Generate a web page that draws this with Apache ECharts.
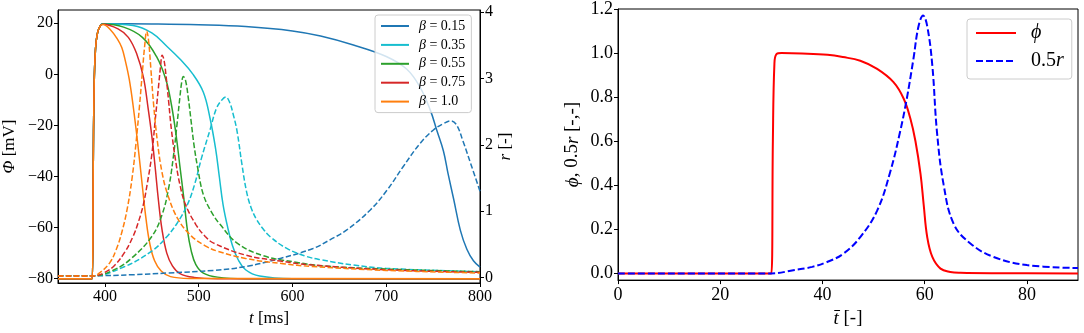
<!DOCTYPE html>
<html>
<head>
<meta charset="utf-8">
<script src="https://cdn.jsdelivr.net/npm/echarts@6/dist/echarts.min.js"></script>
<style>
  html, body { margin: 0; padding: 0; background: #fff; }
  #chart { width: 1084px; height: 333px; }
</style>
</head>
<body>
<div id="chart"></div>
<script>
// ---- data ----
// left panel: membrane potential (solid, mV) and r (dashed, right axis)
var betas = ['0.15', '0.35', '0.55', '0.75', '1.0'];
var colors = ['#1f77b4', '#17becf', '#2ca02c', '#d62728', '#ff7f0e'];

// common upstroke
var tRise = [350, 380, 386.5, 387.5, 388.5, 390, 392, 395];
var phiRise = [-80, -80, -80, -40, -5, 10, 16, 19];

var tPhi015 = [398, 450, 500, 550, 600, 630, 665, 700, 722, 736, 747, 754, 761, 766, 772, 779, 786, 793, 800];
var phi015 = [19.8, 19.7, 19.4, 18.7, 17, 15, 11.5, 7, 2, -5, -14, -22, -30, -39, -49, -61, -68.5, -73, -75.5];
var tPhi035 = [398, 430, 450, 466, 480, 494, 505, 512, 518, 522, 526, 531, 536, 542, 550, 565, 600, 800];
var phi035 = [19.8, 19.1, 16.2, 11, 6, 0, -7, -17, -29, -40, -51, -60, -67, -72.5, -76.5, -79, -80, -80];
var tPhi055 = [398, 420, 440, 455, 465, 471, 476, 480, 484, 488, 492, 497, 505, 520, 550, 800];
var phi055 = [19.7, 18.5, 14.5, 7, -2, -12, -24, -36, -48, -61, -69, -74.5, -77.8, -79.4, -80, -80];
var tPhi075 = [398, 414, 425, 434, 441, 446, 450, 453.5, 457, 461, 466, 472, 480, 495, 520, 800];
var phi075 = [19.6, 17.8, 14.5, 8, -1, -13, -24, -36, -49, -61, -70, -75, -78, -79.5, -80, -80];
var tPhi100 = [398, 407, 413, 418, 422, 426, 430, 435, 440, 444, 448, 453, 460, 470, 490, 800];
var phi100 = [19.5, 17, 14, 10.5, 5, -2, -12, -27, -44, -57, -66.5, -73, -77, -79.2, -79.9, -80];

var tR015 = [350, 387, 430, 466, 516, 551, 587, 622, 640, 658, 683, 701, 718, 736, 750, 761, 769, 775, 782, 790, 800];
var r015 = [0.03, 0.03, 0.045, 0.07, 0.11, 0.17, 0.29, 0.44, 0.57, 0.72, 1.02, 1.32, 1.67, 2.02, 2.22, 2.32, 2.36, 2.3, 2.05, 1.72, 1.3];
var tR035 = [350, 387, 420, 450, 465, 477, 488, 496, 503, 512, 519, 525, 529, 533, 537, 541, 546, 551, 556, 562, 569, 576, 594, 615, 630, 665, 700, 800];
var r035 = [0.03, 0.03, 0.16, 0.4, 0.6, 0.82, 1.1, 1.42, 1.8, 2.22, 2.55, 2.68, 2.72, 2.64, 2.45, 2.2, 1.72, 1.3, 1.05, 0.87, 0.73, 0.62, 0.44, 0.32, 0.27, 0.19, 0.14, 0.09];
var tR055 = [350, 387, 410, 429, 450, 461, 468, 473, 477, 480, 482, 483.7, 486, 489, 492, 495, 499, 505, 514, 523, 541, 569, 605, 630, 700, 800];
var r055 = [0.028, 0.028, 0.12, 0.3, 0.62, 0.95, 1.35, 1.82, 2.32, 2.72, 2.95, 3.03, 2.97, 2.7, 2.35, 2.0, 1.65, 1.25, 0.98, 0.8, 0.52, 0.33, 0.23, 0.18, 0.13, 0.09];
var tR075 = [350, 387, 400, 410, 421, 430, 436, 441, 445, 450, 453.5, 457, 459.5, 461, 463, 465.5, 468, 471, 475, 480, 486, 497, 507, 516, 550, 587, 622, 700, 800];
var r075 = [0.025, 0.025, 0.08, 0.18, 0.38, 0.62, 0.85, 1.1, 1.4, 1.85, 2.35, 2.85, 3.2, 3.35, 3.28, 3.0, 2.65, 2.22, 1.8, 1.4, 1.1, 0.8, 0.62, 0.52, 0.34, 0.25, 0.19, 0.12, 0.08];
var tR100 = [350, 387, 395, 405, 412, 418, 424, 429, 433, 437, 440, 442.5, 444.6, 446.5, 449, 452, 456, 461, 467, 478, 492, 507, 520, 550, 590, 620, 700, 800];
var r100 = [0.025, 0.025, 0.08, 0.22, 0.42, 0.68, 1.05, 1.5, 2.0, 2.6, 3.1, 3.5, 3.71, 3.58, 3.15, 2.6, 2.05, 1.58, 1.25, 0.88, 0.63, 0.48, 0.4, 0.29, 0.21, 0.17, 0.11, 0.07];

// right panel: dimensionless phi and 0.5 r
var tbPhi = [0, 29.5, 30, 30.3, 30.6, 31, 32, 36, 41, 44, 47.4, 50.7, 53.9, 55.9, 57.2, 58.2, 59.2, 59.8, 60.5, 61.5, 63.1, 65, 67, 75, 90];
var phiBar = [0, 0, 0, 0.6, 0.95, 0.995, 1.0, 0.998, 0.992, 0.982, 0.965, 0.928, 0.868, 0.793, 0.703, 0.6, 0.45, 0.314, 0.165, 0.075, 0.022, 0.007, 0.003, 0.001, 0];
var tbR = [0, 30, 34.3, 38, 40.9, 44.1, 47.4, 50.7, 53.3, 55.2, 56.5, 57.8, 58.8, 59.7, 60.5, 61.5, 62.4, 63.7, 65.7, 69, 73.5, 80, 90];
var halfR = [0, 0, 0.015, 0.03, 0.052, 0.09, 0.165, 0.285, 0.464, 0.644, 0.793, 0.973, 1.122, 1.17, 1.122, 0.943, 0.644, 0.404, 0.224, 0.135, 0.075, 0.038, 0.025];

var leftXTicks = [400, 500, 600, 700, 800];
var leftYTicks = [-80, -60, -40, -20, 0, 20];
var rTicks = [0, 1, 2, 3, 4];
var rightXTicks = [0, 20, 40, 60, 80];
var rightYTicks = [0, 0.2, 0.4, 0.6, 0.8, 1.0, 1.2];

// ---- chart ----
var FONT = 'Liberation Serif';
var SMOOTH = 0.4;

function zip(ts, vs) {
  return ts.map(function (t, i) { return [t, vs[i]]; });
}
function minus(v) {
  return v < 0 ? '\u2212' + Math.abs(v) : String(v);
}

var phiT = [tPhi015, tPhi035, tPhi055, tPhi075, tPhi100];
var phiV = [phi015, phi035, phi055, phi075, phi100];
var rT = [tR015, tR035, tR055, tR075, tR100];
var rV = [r015, r035, r055, r075, r100];

function line(name, xi, yi, data, color, width, dash) {
  return {
    name: name, type: 'line',
    xAxisIndex: xi, yAxisIndex: yi,
    data: data,
    showSymbol: false, symbol: 'none',
    smooth: SMOOTH,
    lineStyle: { color: color, width: width, type: dash || 'solid' },
    itemStyle: { color: color },
    silent: true, animation: false
  };
}

var series = [];
betas.forEach(function (b, i) {
  series.push(line('\u03b2 = ' + b, 0, 0, zip(tRise, phiRise).concat(zip(phiT[i], phiV[i])), colors[i], 1.5));
});
betas.forEach(function (b, i) {
  series.push(line('r ' + b, 0, 1, zip(rT[i], rV[i]), colors[i], 1.5, [5.5, 2.4]));
});
series.push(line('\u03d5', 1, 2, zip(tbPhi, phiBar), '#ff0000', 2));
series.push(line('0.5r', 1, 2, zip(tbR, halfR), '#0000ff', 2, [7, 3]));

function ax(extra) {
  var base = {
    type: 'value',
    axisLine: { show: true, onZero: false, lineStyle: { color: '#000', width: 1 } },
    splitLine: { show: false },
    nameLocation: 'middle'
  };
  return Object.assign(base, extra);
}
function ticks(vals) {
  return { show: true, length: 4, customValues: vals, lineStyle: { color: '#000' } };
}
function labels(vals, size, fmt) {
  var o = { customValues: vals, color: '#000', fontSize: size, fontFamily: FONT, margin: 5 };
  if (fmt) o.formatter = fmt;
  return o;
}
function nameStyle(size) {
  return { fontFamily: FONT, fontSize: size, color: '#000',
    rich: { i: { fontStyle: 'italic', fontFamily: FONT, fontSize: size, color: '#000' } } };
}

var hideSymbol = { opacity: 0, color: 'transparent', borderWidth: 0 };

var option = {
  backgroundColor: '#fff',
  textStyle: { fontFamily: FONT },
  grid: [
    { left: 58, top: 10, width: 422, height: 273, show: true, borderColor: '#000', borderWidth: 1 },
    { left: 618, top: 9, width: 460, height: 274, show: true, borderColor: '#000', borderWidth: 1 }
  ],
  legend: [
    {
      data: betas.map(function (b) { return '\u03b2 = ' + b; }),
      orient: 'vertical', left: 375, top: 15,
      padding: [4, 6, 4, 5], itemWidth: 28, itemHeight: 14, itemGap: 4.9,
      itemStyle: hideSymbol,
      backgroundColor: 'rgba(255,255,255,0.8)', borderColor: '#cccccc', borderWidth: 1, borderRadius: 3,
      formatter: function (n) { return '{i|\u03b2} = ' + n.split('= ')[1]; },
      textStyle: Object.assign(nameStyle(14), { padding: [0, 0, 0, 5] }),
      selectedMode: false
    },
    {
      data: ['\u03d5', '0.5r'],
      orient: 'vertical', left: 967, top: 19,
      padding: [4, 8, 8, 8], itemWidth: 40, itemHeight: 20, itemGap: 8,
      itemStyle: hideSymbol,
      backgroundColor: 'rgba(255,255,255,0.8)', borderColor: '#cccccc', borderWidth: 1, borderRadius: 3,
      formatter: function (n) { return n === '0.5r' ? '0.5{i|r}' : '{i|\u03d5}'; },
      textStyle: Object.assign(nameStyle(20), { padding: [0, 0, 0, 10] }),
      selectedMode: false
    }
  ],
  xAxis: [
    ax({
      gridIndex: 0, min: 350, max: 800,
      axisLabel: Object.assign(labels(leftXTicks, 16), { margin: 6 }),
      axisTick: ticks(leftXTicks),
      name: '{i|t} [ms]', nameGap: 24, nameTextStyle: nameStyle(17)
    }),
    ax({
      gridIndex: 1, min: 0, max: 90,
      axisLabel: Object.assign(labels(rightXTicks, 18), { margin: 6 }),
      axisTick: ticks(rightXTicks),
      name: '{i|t\u0304} [-]', nameGap: 26, nameTextStyle: nameStyle(19)
    })
  ],
  yAxis: [
    ax({
      gridIndex: 0, min: -81.7, max: 25.2,
      axisLabel: labels(leftYTicks, 16, minus),
      axisTick: ticks(leftYTicks),
      name: '{i|\u03a6} [mV]', nameGap: 40, nameTextStyle: nameStyle(17)
    }),
    ax({
      gridIndex: 0, position: 'right', min: -0.08, max: 4.03,
      axisLabel: labels(rTicks, 16),
      axisTick: ticks(rTicks),
      name: '{i|r} [-]', nameGap: 16, nameTextStyle: nameStyle(17)
    }),
    ax({
      gridIndex: 1, min: -0.03, max: 1.2,
      axisLabel: labels(rightYTicks, 18, function (v) { return v.toFixed(1); }),
      axisTick: ticks(rightYTicks),
      name: '{i|\u03d5}, 0.5{i|r} [-,-]', nameGap: 36, nameTextStyle: nameStyle(19)
    })
  ],
  series: series
};

var chart = echarts.init(document.getElementById('chart'), null, { renderer: 'canvas' });
chart.setOption(option);
</script>
</body>
</html>
